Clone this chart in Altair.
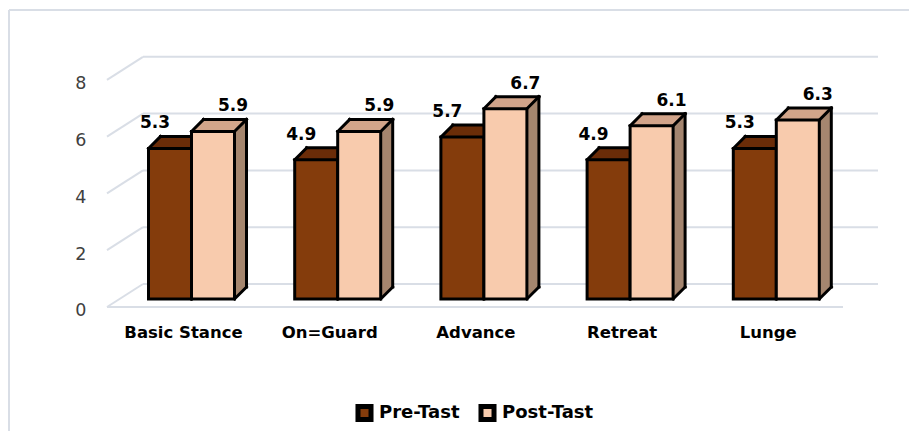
import altair as alt
import pandas as pd

# ---- data ----
categories = ["Basic Stance", "On=Guard", "Advance", "Retreat", "Lunge"]
series_names = ["Pre-Tast", "Post-Tast"]
pre_values = [5.3, 4.9, 5.7, 4.9, 5.3]
post_values = [5.9, 5.9, 6.7, 6.1, 6.3]
y_ticks = [0, 2, 4, 6, 8]

rows = []
for c, a, b in zip(categories, pre_values, post_values):
    rows.append({"category": c, "series": series_names[0], "value": a})
    rows.append({"category": c, "series": series_names[1], "value": b})
df = pd.DataFrame(rows)
grid_df = pd.DataFrame({"g": y_ticks})

# ---- styles ----
PRE_FRONT, POST_FRONT = "#843C0C", "#F8CBAD"
PRE_TOP, POST_TOP = "#6B2D08", "#D2A58A"
PRE_SIDE, POST_SIDE = "#5C2608", "#A5866F"
GRID = "#D9DEE6"
FONT = "DejaVu Sans"
W, H = 900, 421
D = 12          # 3D depth in px
BW = 43         # bar width in px
HW = BW / 2

xs = alt.Scale(domain=categories, range=[109.4, 840.4], paddingInner=0, paddingOuter=0)
ys = alt.Scale(domain=[-4.648, 10.176], nice=False, zero=False)

X = alt.X("category:N", sort=categories, scale=xs, title=None,
          axis=alt.Axis(offset=-110, labelPadding=3, labelOffset=-8, ticks=False, domain=False,
                        labelAngle=0, labelFont=FONT, labelFontSize=16.5, labelFontWeight="bold",
                        labelColor="#000000", grid=False))
YAX = alt.Axis(values=y_ticks, offset=-85, labelPadding=8, labelOffset=12, ticks=False,
               domain=False, grid=False, labelFont=FONT, labelFontSize=17.5, labelColor="#404040")
Y = alt.Y("value:Q", scale=ys, title=None, axis=YAX)

series_color = {
    series_names[0]: (PRE_FRONT, PRE_TOP, PRE_SIDE, -HW),
    series_names[1]: (POST_FRONT, POST_TOP, POST_SIDE, HW),
}

layers = []

# frame (decorative)
frame_src = alt.Chart(grid_df.head(1))
layers.append(frame_src.mark_rule(color=GRID, strokeWidth=2).encode(
    x=alt.value(0), x2=alt.value(W), y=alt.value(0)))
layers.append(frame_src.mark_rule(color=GRID, strokeWidth=2).encode(
    x=alt.value(0), y=alt.value(0), y2=alt.value(H)))

# gridlines in perspective
g = alt.Chart(grid_df)
GY = alt.Y("g:Q", scale=ys, title=None, axis=YAX)
layers.append(g.mark_rule(color=GRID, strokeWidth=2, yOffset=-15).encode(
    y=GY, x=alt.value(134), x2=alt.value(869)))
layers.append(g.mark_rule(color=GRID, strokeWidth=2, yOffset=8, y2Offset=-15).encode(
    y=GY, y2="g:Q", x=alt.value(98), x2=alt.value(134)))
layers.append(g.transform_filter("datum.g == 0").mark_rule(color=GRID, strokeWidth=2, yOffset=8).encode(
    y=GY, x=alt.value(98), x2=alt.value(834)))

base = alt.Chart(df).transform_calculate(zero="0")

def sub(name):
    return base.transform_filter(f"datum.series == '{name}'")

# extrusions (side + top faces)
for name in series_names:
    front, top, side, cs = series_color[name]
    s = sub(name)
    for k in range(D, 0, -1):
        layers.append(s.mark_bar(width=BW, xOffset=cs + k, yOffset=-k, y2Offset=-k,
                                 strokeWidth=0, color=side).encode(x=X, y=Y))
    for k in range(D - 1, 0, -1):
        layers.append(s.mark_bar(width=BW, xOffset=cs + k, yOffset=-k - 1, y2Offset=-k + 1,
                                 strokeWidth=0, color=top).encode(x=X, y=Y, y2="value:Q"))

# box edges
edge = dict(color="black", strokeWidth=3, strokeCap="square")
for name in series_names:
    front, top, side, cs = series_color[name]
    s = sub(name)
    L, R = cs - HW, cs + HW
    layers.append(s.mark_rule(xOffset=L, x2Offset=L + D, yOffset=0, y2Offset=-D, **edge).encode(
        x=X, x2="category:N", y=Y, y2="value:Q"))
    layers.append(s.mark_rule(xOffset=R, x2Offset=R + D, yOffset=0, y2Offset=-D, **edge).encode(
        x=X, x2="category:N", y=Y, y2="value:Q"))
    layers.append(s.mark_rule(xOffset=L + D, x2Offset=R + D, yOffset=-D, y2Offset=-D, **edge).encode(
        x=X, x2="category:N", y=Y, y2="value:Q"))
    layers.append(s.mark_rule(xOffset=R + D, x2Offset=R + D, yOffset=-D, y2Offset=-D, **edge).encode(
        x=X, x2="category:N", y=Y, y2="zero:Q"))
    layers.append(s.mark_rule(xOffset=R, x2Offset=R + D, yOffset=0, y2Offset=-D, **edge).encode(
        x=X, x2="category:N", y="zero:Q", y2="zero:Q"))

# front faces
fill = alt.Fill("series:N", sort=series_names,
                scale=alt.Scale(domain=series_names, range=[PRE_FRONT, POST_FRONT]),
                legend=alt.Legend(title=None, orient="none", legendX=346, legendY=393,
                                  direction="horizontal", symbolType="square", symbolSize=170,
                                  symbolStrokeColor="black", symbolStrokeWidth=5,
                                  labelFont=FONT, labelFontSize=18, labelFontWeight="bold",
                                  labelColor="#000000", columnPadding=10, labelOffset=5))
for name in series_names:
    front, top, side, cs = series_color[name]
    layers.append(sub(name).mark_bar(width=BW, xOffset=cs, stroke="black", strokeWidth=3,
                                     strokeJoin="miter").encode(x=X, y=Y, fill=fill))

# data labels
for name, dx in ((series_names[0], -HW - 15), (series_names[1], HW + 20)):
    layers.append(sub(name).mark_text(
        dx=dx, dy=-25, font=FONT, fontSize=17, fontWeight="bold", color="#000000").encode(
        x=X, y=Y, text=alt.Text("value:Q", format=".1f")))

chart = alt.layer(*layers).properties(
    width=W, height=H,
    autosize=alt.AutoSizeParams(type="none"),
    padding={"left": 1, "top": 2, "right": 0, "bottom": 0},
).configure_view(stroke=None).configure(background="white")

chart.save("out.html", embed_options={"renderer": "svg", "actions": False})
